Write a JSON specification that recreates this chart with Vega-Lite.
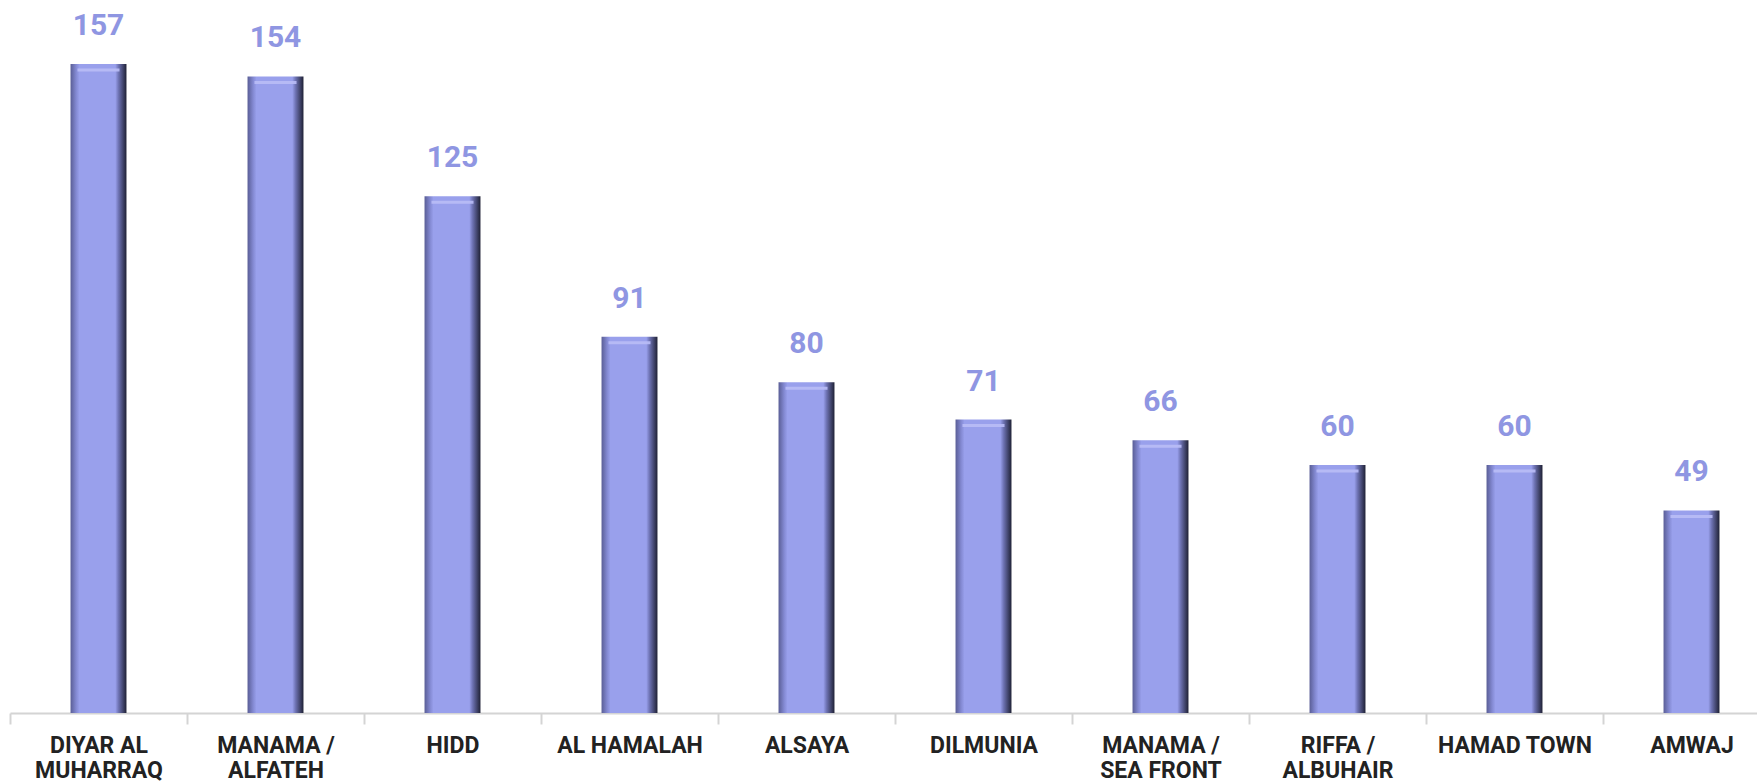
{
  "$schema": "https://vega.github.io/schema/vega-lite/v6.json",
  "width": 1747,
  "height": 713,
  "autosize": {"type": "none"},
  "padding": {"left": 10, "top": 0, "right": 0, "bottom": 70},
  "background": "white",
  "config": {"view": {"stroke": null}, "font": "Roboto"},
  "data": {
    "values": [
      {"area": "DIYAR AL\nMUHARRAQ", "count": 157},
      {"area": "MANAMA /\nALFATEH", "count": 154},
      {"area": "HIDD", "count": 125},
      {"area": "AL HAMALAH", "count": 91},
      {"area": "ALSAYA", "count": 80},
      {"area": "DILMUNIA", "count": 71},
      {"area": "MANAMA /\nSEA FRONT", "count": 66},
      {"area": "RIFFA /\nALBUHAIR", "count": 60},
      {"area": "HAMAD TOWN", "count": 60},
      {"area": "AMWAJ", "count": 49}
    ]
  },
  "encoding": {
    "x": {
      "field": "area",
      "type": "nominal",
      "sort": null,
      "scale": {"range": [0, 1770], "paddingInner": 0, "paddingOuter": 0},
      "axis": {
        "title": null,
        "labelAngle": 0,
        "labelExpr": "split(datum.label, '\\n')",
        "labelFont": "Roboto",
        "labelFontSize": 23,
        "labelFontWeight": "bold",
        "labelColor": "#222222",
        "labelLineHeight": 25,
        "labelPadding": 10,
        "labelLimit": 300,
        "tickBand": "extent",
        "tickSize": 11,
        "tickColor": "#d4d4d4",
        "tickWidth": 2,
        "domainColor": "#d4d4d4",
        "domainWidth": 2,
        "grid": false
      }
    },
    "y": {
      "field": "count",
      "type": "quantitative",
      "scale": {"domain": [0, 172.5], "nice": false, "zero": true},
      "axis": null
    }
  },
  "layer": [
    {
      "mark": {
        "type": "bar",
        "width": {"band": 0.316},
        "fill": {
          "gradient": "linear",
          "x1": 0, "y1": 0, "x2": 1, "y2": 0,
          "stops": [
            {"offset": 0, "color": "#5a5e96"},
            {"offset": 0.1, "color": "#8389d2"},
            {"offset": 0.16, "color": "#99a0ec"},
            {"offset": 0.8, "color": "#99a0ec"},
            {"offset": 0.86, "color": "#6d72b2"},
            {"offset": 1, "color": "#1f2135"}
          ]
        }
      }
    },
    {
      "mark": {
        "type": "tick",
        "orient": "horizontal",
        "yOffset": 6,
        "thickness": 3,
        "size": 42,
        "color": "#b9bdf6",
        "opacity": 0.9
      }
    },
    {
      "mark": {
        "type": "text",
        "baseline": "alphabetic",
        "dy": -29,
        "font": "Roboto",
        "fontSize": 30,
        "fontWeight": "bold",
        "color": "#8f96e2"
      },
      "encoding": {"text": {"field": "count", "type": "quantitative"}}
    }
  ]
}
